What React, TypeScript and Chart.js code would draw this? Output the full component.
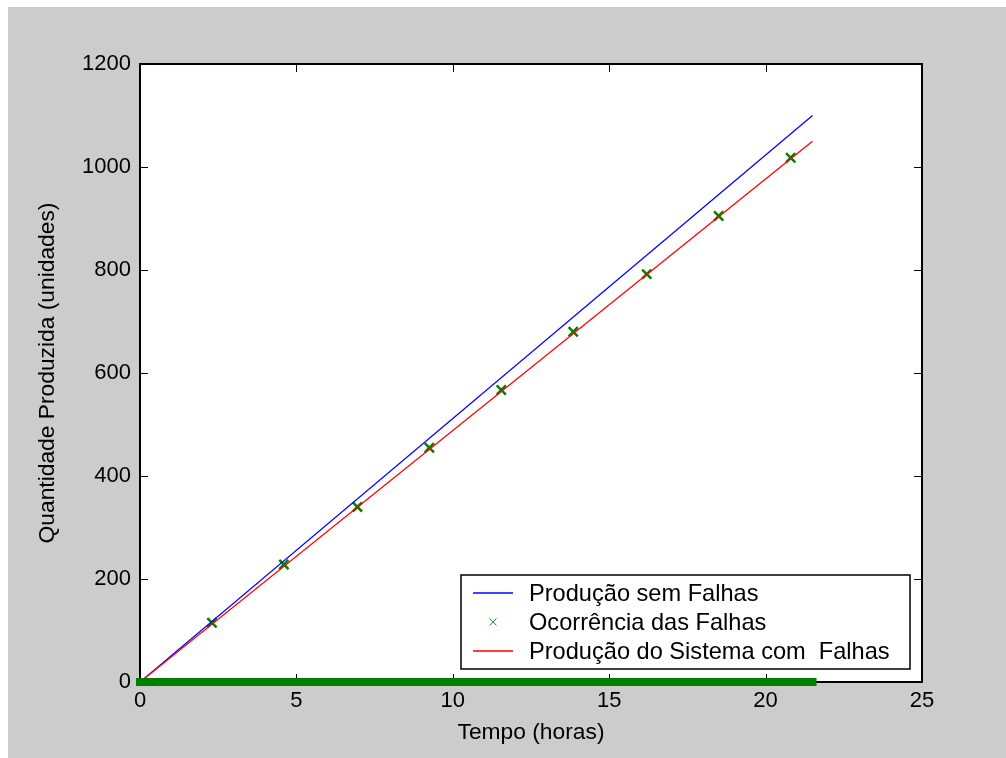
import React, { useEffect, useRef } from "react";
import { Chart, registerables } from "chart.js";

Chart.register(...registerables);

// ---- data ----
const lineTime = [0, 21.5];
const producaoSemFalhas = [0, 1100];
const producaoComFalhas = [0, 1050];
const falhaTempo = [2.3, 4.6, 6.95, 9.25, 11.55, 13.85, 16.2, 18.5, 20.8];
const falhaQtd = [115, 228, 340, 455, 567, 680, 792, 905, 1018];
const barraTempo = [0, 21.5];
const barraQtd = [0, 0];
const xTicks = [0, 5, 10, 15, 20, 25];
const yTicks = [0, 200, 400, 600, 800, 1000, 1200];

const labelSem = "Produção sem Falhas";
const labelOcor = "Ocorrência das Falhas";
const labelCom = "Produção do Sistema com  Falhas";

const FONT = "'Liberation Sans', Arial, Helvetica, sans-serif";

const zip = (xs: number[], ys: number[]) => xs.map((x, i) => ({ x, y: ys[i] }));

const framePlugin = {
  id: "matlabFrame",
  beforeDraw(chart: any) {
    const { ctx, chartArea: a } = chart;
    ctx.save();
    ctx.fillStyle = "#ffffff";
    ctx.fillRect(a.left, a.top, a.right - a.left, a.bottom - a.top);
    ctx.restore();
  },
  beforeDatasetsDraw(chart: any) {
    const { ctx, chartArea: a, scales } = chart;
    ctx.save();
    ctx.strokeStyle = "#000000";
    ctx.lineWidth = 1;
    const tl = 8;
    ctx.beginPath();
    scales.x.ticks.forEach((t: any) => {
      const px = Math.round(scales.x.getPixelForValue(t.value)) + 0.5;
      ctx.moveTo(px, a.bottom);
      ctx.lineTo(px, a.bottom - tl);
      ctx.moveTo(px, a.top);
      ctx.lineTo(px, a.top + tl);
    });
    scales.y.ticks.forEach((t: any) => {
      const py = Math.round(scales.y.getPixelForValue(t.value)) + 0.5;
      ctx.moveTo(a.left, py);
      ctx.lineTo(a.left + tl, py);
      ctx.moveTo(a.right, py);
      ctx.lineTo(a.right - tl, py);
    });
    ctx.stroke();
    ctx.lineWidth = 2;
    ctx.strokeRect(a.left, a.top, a.right - a.left, a.bottom - a.top);
    ctx.restore();
  },
  afterDraw(chart: any) {
    const { ctx, chartArea: a } = chart;
    const w = 449;
    const h = 94;
    const x0 = a.right - 12 - w;
    const y0 = a.bottom - 13 - h;
    ctx.save();
    ctx.fillStyle = "#ffffff";
    ctx.fillRect(x0, y0, w, h);
    ctx.strokeStyle = "#000000";
    ctx.lineWidth = 1.5;
    ctx.strokeRect(x0, y0, w, h);
    const items = chart.data.datasets.filter((d: any) => d.inLegend);
    items.forEach((d: any, i: number) => {
      const cy = y0 + 18 + i * 29;
      if (d.showLine) {
        ctx.strokeStyle = d.borderColor;
        ctx.lineWidth = 1.3;
        ctx.beginPath();
        ctx.moveTo(x0 + 12, cy);
        ctx.lineTo(x0 + 52, cy);
        ctx.stroke();
      } else {
        ctx.strokeStyle = "#2a9a2a";
        ctx.lineWidth = 1;
        const cx = x0 + 32;
        const r = 3.5;
        ctx.beginPath();
        ctx.moveTo(cx - r, cy - r);
        ctx.lineTo(cx + r, cy + r);
        ctx.moveTo(cx - r, cy + r);
        ctx.lineTo(cx + r, cy - r);
        ctx.stroke();
      }
      ctx.fillStyle = "#000000";
      ctx.font = `23.6px ${FONT}`;
      ctx.textBaseline = "middle";
      ctx.textAlign = "left";
      ctx.fillText(d.label, x0 + 68, cy + 1);
    });
    ctx.restore();
  },
};

export default function App() {
  const ref = useRef<HTMLCanvasElement | null>(null);
  useEffect(() => {
    if (!ref.current) return;
    const chart = new Chart(ref.current, {
      type: "scatter",
      data: {
        datasets: [
          {
            label: labelSem,
            inLegend: true,
            data: zip(lineTime, producaoSemFalhas),
            showLine: true,
            borderColor: "#0000ff",
            borderWidth: 1.3,
            pointRadius: 0,
            order: 2,
          } as any,
          {
            label: labelOcor,
            inLegend: true,
            data: zip(falhaTempo, falhaQtd),
            showLine: false,
            pointStyle: "crossRot",
            pointRadius: 6.5,
            borderColor: "#008000",
            backgroundColor: "#008000",
            pointBorderWidth: 2.5,
            order: 3,
          } as any,
          {
            label: labelCom,
            inLegend: true,
            data: zip(lineTime, producaoComFalhas),
            showLine: true,
            borderColor: "#ff0000",
            borderWidth: 1.3,
            pointRadius: 0,
            order: 1,
          } as any,
          {
            label: "",
            inLegend: false,
            data: zip(barraTempo, barraQtd),
            showLine: true,
            borderColor: "#008000",
            borderWidth: 8,
            borderCapStyle: "square",
            pointRadius: 0,
            clip: false,
            order: 0,
          } as any,
        ],
      },
      options: {
        animation: false,
        responsive: true,
        maintainAspectRatio: false,
        layout: { padding: { top: 57, right: 84, left: 0, bottom: 0 } },
        plugins: { legend: { display: false }, tooltip: { enabled: false } },
        scales: {
          x: {
            type: "linear",
            min: 0,
            max: 25,
            afterBuildTicks: (s: any) => {
              s.ticks = xTicks.map((v) => ({ value: v }));
            },
            afterFit: (s: any) => {
              s.height = 76;
            },
            grid: { display: false, drawTicks: false },
            border: { display: false },
            ticks: {
              color: "#000000",
              padding: 6,
              maxRotation: 0,
              callback: (v: any) => String(v),
              font: { family: FONT, size: 22 },
            },
            title: {
              display: true,
              text: "Tempo (horas)",
              color: "#000000",
              font: { family: FONT, size: 22.8 },
              padding: { top: 0, bottom: 11.5 },
            },
          },
          y: {
            type: "linear",
            min: 0,
            max: 1200,
            afterBuildTicks: (s: any) => {
              s.ticks = yTicks.map((v) => ({ value: v }));
            },
            afterFit: (s: any) => {
              s.width = 132;
            },
            grid: { display: false, drawTicks: false },
            border: { display: false },
            ticks: {
              color: "#000000",
              padding: 9,
              callback: (v: any) => String(v),
              font: { family: FONT, size: 22 },
            },
            title: {
              display: true,
              text: "Quantidade Produzida (unidades)",
              color: "#000000",
              font: { family: FONT, size: 22.8 },
              padding: { top: 26.5, bottom: 0 },
            },
          },
        },
      } as any,
      plugins: [framePlugin],
    });
    return () => chart.destroy();
  }, []);

  return (
    <div
      style={{
        position: "fixed",
        left: 8,
        top: 7,
        width: 998,
        height: 751,
        background: "#cccccc",
      }}
    >
      <div style={{ position: "relative", width: 998, height: 751 }}>
        <canvas ref={ref} />
      </div>
    </div>
  );
}
